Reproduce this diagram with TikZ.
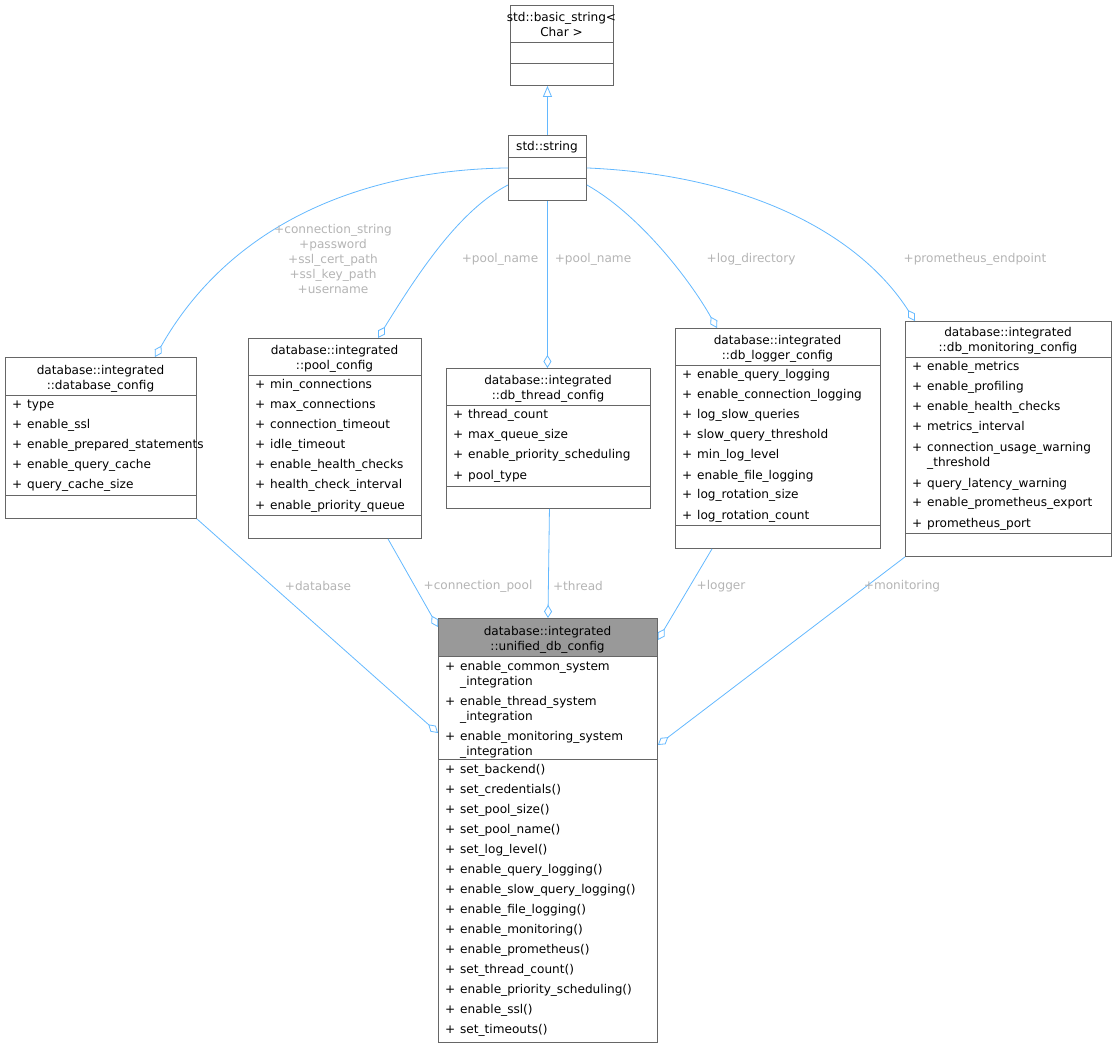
\documentclass[tikz,border=0pt]{standalone}
\usepackage{fontspec}
\setmainfont{DejaVu Sans}
\usetikzlibrary{arrows.meta}
\definecolor{edge}{HTML}{63B8FF}
\definecolor{lbl}{HTML}{B4B4B4}
\definecolor{bord}{HTML}{666666}
\begin{document}
\begin{tikzpicture}[x=1pt,y=-1pt,
  font=\fontsize{12.1}{15}\selectfont,
  box/.style={draw=bord,line width=0.9pt,inner sep=0,anchor=north west},
  sep/.style={draw=bord,line width=0.9pt},
  attr/.style={anchor=base west,inner sep=0},
  ttl/.style={anchor=base,inner sep=0,align=center},
  lab/.style={text=lbl,inner sep=0,align=center},
  agg/.style={draw=edge,line width=0.8pt,-{Diamond[open,length=13pt,width=8pt]}},
  inh/.style={draw=edge,line width=0.8pt,-{Triangle[open,length=11pt,width=9pt]}}]
\newcommand\pl{\makebox[15pt][l]{+}}
\useasboundingbox (0,0) rectangle (1117,1048);
% basic_string
\node[box,minimum width=103pt,minimum height=80pt] (bs) at (510,5) {};
\node[ttl] (bst1) at (561.5,22) {std::basic\_string<};
\node[ttl] (bst2) at (561.5,37) {Char >};
\draw[sep] (510,42) -- (613,42) (510,63) -- (613,63);
% std::string
\node[box,minimum width=78pt,minimum height=65pt] (str) at (508,135) {};
\node[ttl] (strt) at (547,151) {std::string};
\draw[sep] (508,157) -- (586,157) (508,178) -- (586,178);
% database_config
\node[box,minimum width=191pt,minimum height=161pt] (db) at (5,357) {};
\node[ttl] (dbt1) at (100.5,375) {database::integrated};
\node[ttl] (dbt2) at (100.5,390) {::database\_config};
\draw[sep] (5,395) -- (196,395) (5,495) -- (196,495);
\foreach \t [count=\i from 0] in {type,enable\_ssl,enable\_prepared\_statements,enable\_query\_cache,query\_cache\_size}
  \node[attr] (dba\i) at (12,{409+20*\i}) {\pl\t};
% pool_config
\node[box,minimum width=173pt,minimum height=200pt] (pool) at (248,338) {};
\node[ttl] (pt1) at (334.5,355) {database::integrated};
\node[ttl] (pt2) at (334.5,370) {::pool\_config};
\draw[sep] (248,375) -- (421,375) (248,515) -- (421,515);
\foreach \t [count=\i from 0] in {min\_connections,max\_connections,connection\_timeout,idle\_timeout,enable\_health\_checks,health\_check\_interval,enable\_priority\_queue}
  \node[attr] (pa\i) at (255,{389+20*\i}) {\pl\t};
% db_thread_config
\node[box,minimum width=204pt,minimum height=140pt] (thr) at (446,368) {};
\node[ttl] (tt1) at (548,385) {database::integrated};
\node[ttl] (tt2) at (548,400) {::db\_thread\_config};
\draw[sep] (446,405) -- (650,405) (446,486) -- (650,486);
\foreach \t [count=\i from 0] in {thread\_count,max\_queue\_size,enable\_priority\_scheduling,pool\_type}
  \node[attr] (ta\i) at (453,{419+20*\i}) {\pl\t};
% db_logger_config
\node[box,minimum width=205pt,minimum height=220pt] (log) at (675,328) {};
\node[ttl] (lt1) at (777.5,345) {database::integrated};
\node[ttl] (lt2) at (777.5,360) {::db\_logger\_config};
\draw[sep] (675,365) -- (880,365) (675,525) -- (880,525);
\foreach \t [count=\i from 0] in {enable\_query\_logging,enable\_connection\_logging,log\_slow\_queries,slow\_query\_threshold,min\_log\_level,enable\_file\_logging,log\_rotation\_size,log\_rotation\_count}
  \node[attr] (la\i) at (682,{379+20*\i}) {\pl\t};
% db_monitoring_config
\node[box,minimum width=206pt,minimum height=235pt] (mon) at (905,321) {};
\node[ttl] (mt1) at (1008,337) {database::integrated};
\node[ttl] (mt2) at (1008,352) {::db\_monitoring\_config};
\draw[sep] (905,357) -- (1111,357) (905,533) -- (1111,533);
\foreach \t [count=\i from 0] in {enable\_metrics,enable\_profiling,enable\_health\_checks,metrics\_interval}
  \node[attr] (ma\i) at (912,{371+20*\i}) {\pl\t};
\node[attr] (ma4) at (912,452) {\pl connection\_usage\_warning};
\node[attr] (ma4b) at (927,467) {\_threshold};
\foreach \t [count=\i from 0] in {query\_latency\_warning,enable\_prometheus\_export,prometheus\_port}
  \node[attr] (mb\i) at (912,{487+20*\i}) {\pl\t};
% unified
\node[box,minimum width=219pt,minimum height=424pt] (uni) at (438,618) {};
\fill[fill={rgb,255:red,153;green,153;blue,153}] (438,618) rectangle (657,656);
\draw[bord,line width=0.9pt] (438,618) rectangle (657,1042);
\node[ttl] (ut1) at (547.5,635) {database::integrated};
\node[ttl] (ut2) at (547.5,650) {::unified\_db\_config};
\draw[sep] (438,656) -- (657,656) (438,759) -- (657,759);
\foreach \t [count=\i from 0] in {common,thread,monitoring}{
  \node[attr] (ua\i) at (445,{670+35*\i}) {\pl enable\_\t\_system};
  \node[attr] (ub\i) at (460,{685+35*\i}) {\_integration};}
\foreach \t [count=\i from 0] in {set\_backend(),set\_credentials(),set\_pool\_size(),set\_pool\_name(),set\_log\_level(),enable\_query\_logging(),enable\_slow\_query\_logging(),enable\_file\_logging(),enable\_monitoring(),enable\_prometheus(),set\_thread\_count(),enable\_priority\_scheduling(),enable\_ssl(),set\_timeouts()}
  \node[attr] (um\i) at (445,{773+20*\i}) {\pl\t};
% edges from std::string
\draw[inh] (str.north) -- ([xshift=-14.5pt]bs.south);
\draw[agg] (str.west) .. controls (360,170) and (230,225) .. ([xshift=150pt]db.north west);
\draw[agg] ([yshift=-17pt]str.west) .. controls (460,210) and (420,270) .. ([xshift=130pt]pool.north west);
\draw[agg] (str.south) -- ([xshift=-1pt]thr.north);
\draw[agg] ([yshift=-17pt]str.east) .. controls (640,215) and (690,280) .. ([xshift=42pt]log.north west);
\draw[agg] (str.east) .. controls (750,175) and (860,235) .. ([xshift=10pt]mon.north west);
\node[lab] (l1) at (333,259) {+connection\_string\\+password\\+ssl\_cert\_path\\+ssl\_key\_path\\+username};
\node[lab] (l2) at (500,259) {+pool\_name};
\node[lab] (l3) at (593,259) {+pool\_name};
\node[lab] (l4) at (751,259) {+log\_directory};
\node[lab] (l5) at (975,259) {+prometheus\_endpoint};
% edges to unified
\draw[agg] (db.south east) -- ([yshift=-115pt]uni.north west);
\draw[agg] ([xshift=140pt]pool.south west) -- ([yshift=-9pt]uni.north west);
\draw[agg] ([xshift=1pt]thr.south) -- (uni.north);
\draw[agg] ([xshift=37pt]log.south west) -- ([yshift=-22pt]uni.north east);
\draw[agg] (mon.south west) -- ([yshift=-127pt]uni.north east);
\node[lab] (l6) at (318,586) {+database};
\node[lab] (l7) at (478,586) {+connection\_pool};
\node[lab] (l8) at (578,586) {+thread};
\node[lab] (l9) at (721,586) {+logger};
\node[lab] (l10) at (902,586) {+monitoring};
\end{tikzpicture}
\end{document}
